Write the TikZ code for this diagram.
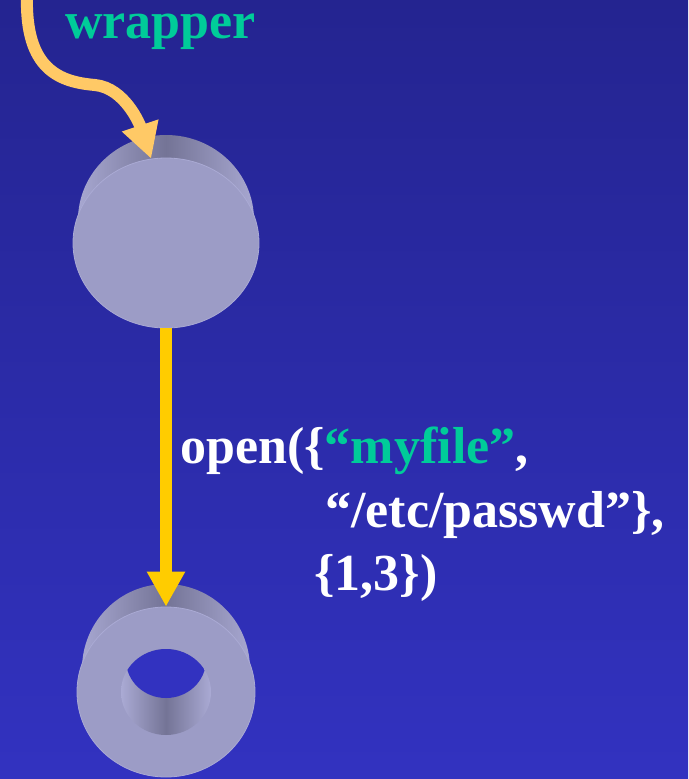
\documentclass[tikz,border=0pt]{standalone}
\usepackage{fontspec}
\setmainfont{Liberation Serif}
\usetikzlibrary{arrows.meta,shapes.geometric}

\definecolor{bgtop}{RGB}{36,36,144}
\definecolor{bgbot}{RGB}{50,50,192}
\definecolor{disc}{RGB}{156,156,198}
\definecolor{rimlight}{RGB}{170,170,212}
\definecolor{rimdark}{RGB}{116,116,150}
\definecolor{wirecol}{RGB}{255,201,102}
\definecolor{callcol}{RGB}{255,204,0}
\definecolor{strcol}{RGB}{0,204,153}

\tikzset{
  drumside/.style={left color=rimlight,right color=rimlight,middle color=rimdark},
  drumface/.style={ellipse,fill=disc,draw=rimlight,line width=0.8pt,inner sep=0pt,minimum height=170pt},
  calltext/.style={inner sep=0pt,anchor=base west,text=white,font=\bfseries\fontsize{52}{63}\selectfont},
  fat/.style={line width=12pt,-{Triangle[width=36pt,length=35pt]}}
}

% #1,#2 centre of the front face, #3 its x radius, #4 node name
\newcommand{\drum}[4]{%
  \shade[drumside] (#1-#3,#2) -- (#1-#3+5,#2-23)
    arc[start angle=180,end angle=360,x radius=#3-5,y radius=85] -- (#1+#3,#2) -- cycle;
  \node[drumface,minimum width=2*#3pt] (#4) at (#1,#2) {};
}

\begin{document}
\begin{tikzpicture}[x=1pt,y=-1pt]
\useasboundingbox (0,0) rectangle (688,779);
\shade[top color=bgtop,bottom color=bgbot] (0,0) rectangle (688,779);

% the two drums
\drum{166}{243}{93}{disk1}
\drum{166}{692}{89}{disk2}

% hole through the lower drum
\begin{scope}
  \clip (166,692) ellipse [x radius=45,y radius=43];
  \shade[drumside] (121,649) rectangle (211,735);
  \fill[bgbot] (166,660) ellipse [x radius=40,y radius=38];
\end{scope}

% arrows
\coordinate (wstart) at (27,-4);
\draw[fat,wirecol] (wstart) .. controls (25,70) and (60,82) .. (95,85)
  .. controls (125,88) and (140,125) .. (disk1.100);
\draw[fat,callcol] (disk1.south) -- (disk2.north);

% labels
\node[calltext,text=strcol] (wrap) at (65,38) {wrapper};
\node[calltext] (call1) at (180,463) {open(\{\textcolor{strcol}{“myfile”},};
\node[calltext] (call2) at (325,527) {“/etc/passwd”\},};
\node[calltext] (call3) at (314,590) {\{1,3\})};
\end{tikzpicture}
\end{document}
